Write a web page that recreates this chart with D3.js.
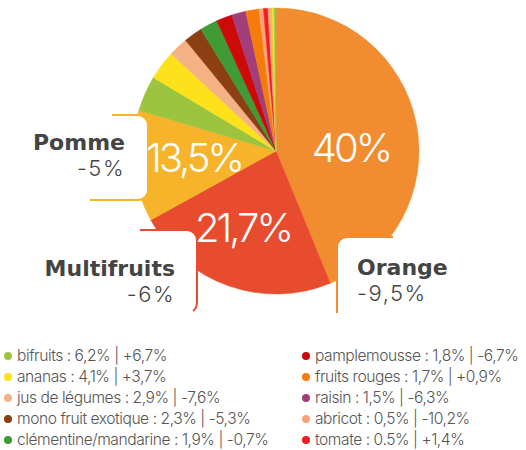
<!DOCTYPE html>
<html>
<head>
<meta charset="utf-8">
<script src="https://cdn.jsdelivr.net/npm/d3@7/dist/d3.min.js"></script>
<style>
  body { margin: 0; background: #fff; }
  svg { display: block; font-family: Inter, "Noto Sans", sans-serif; }
</style>
</head>
<body>
<div id="chart"></div>
<script>
// main segments (pie order)
const mainNames = ["Orange", "Multifruits", "Pomme"]
const mainShareLabels = ["40%", "21,7%", "13,5%"]
const mainChanges = ["-9,5%", "-6%", "-5%"]
const mainColors = ["#F28C30", "#E84C2E", "#F7B42A"]
// slice sizes as drawn in the picture (the infographic is not to scale)
const mainSlices = [43.8, 23.2, 12.6]

// small segments (legend order)
const minorNames = ["bifruits", "ananas", "jus de légumes", "mono fruit exotique", "clémentine/mandarine",
  "pamplemousse", "fruits rouges", "raisin", "abricot", "tomate"]
const minorShareLabels = ["6,2%", "4,1%", "2,9%", "2,3%", "1,9%", "1,8%", "1,7%", "1,5%", "0,5%", "0.5%"]
const minorChanges = ["+6,7%", "+3,7%", "-7,6%", "-5,3%", "-0,7%", "-6,7%", "+0,9%", "-6,3%", "-10,2%", "+1,4%"]
const minorColors = ["#9DC43F", "#FDE11B", "#F4B183", "#8B3F12", "#3E9B35",
  "#CC0A0A", "#F57C0A", "#A23E79", "#F8A27A", "#F21C1C"]
const minorSlices = [4.0, 3.3, 2.2, 2.1, 2.0, 1.8, 1.5, 1.6, 0.5, 0.5]
// order in which the small segments appear in the pie
const minorPieOrder = [0, 1, 2, 3, 4, 5, 7, 6, 8, 9]

// unlabelled slivers closing the pie
const otherSlices = [0.25, 0.25, 0.2, 0.2]
const otherColors = ["#F7A08A", "#F8C030", "#F5E03A", "#8CC63F"]

const W = 526, H = 450
const CX = 276, CY = 151, R = 143

const svg = d3.select("#chart").append("svg")
  .attr("width", W)
  .attr("height", H)

const slices = []
mainNames.forEach((n, i) => slices.push({ share: mainSlices[i], color: mainColors[i] }))
minorPieOrder.forEach(i => slices.push({ share: minorSlices[i], color: minorColors[i] }))
otherSlices.forEach((s, i) => slices.push({ share: s, color: otherColors[i] }))

const pie = d3.pie().sort(null).value(d => d.share)
const arc = d3.arc().innerRadius(0).outerRadius(R)

const pieG = svg.append("g").attr("transform", `translate(${CX},${CY})`)

pieG.selectAll("path")
  .data(pie(slices))
  .join("path")
  .attr("d", arc)
  .attr("fill", d => d.data.color)
  .attr("stroke", d => d.data.color)
  .attr("stroke-width", 0.5)

// white label boxes that cut into the pie
const boxes = [
  { fill: [0, 115, 148, 85], line: "M112,115 H138 A10,10 0 0 1 148,125 V190 A10,10 0 0 1 138,200 H90", color: mainColors[2] },
  { fill: [0, 230, 197, 90], line: "M140,230 H187 A10,10 0 0 1 197,240 V302 Q197,308 193,311", color: mainColors[1] },
  { fill: [337, 237, 189, 90], line: "M393,237 H347 A10,10 0 0 0 337,247 V313", color: mainColors[0] }
]
boxes.forEach(b => {
  const [x, y, w, h] = b.fill
  svg.append("rect")
    .attr("x", x).attr("y", y)
    .attr("width", w).attr("height", h)
    .attr("rx", 10)
    .attr("fill", "#fff")
  svg.append("path")
    .attr("d", b.line)
    .attr("fill", "none")
    .attr("stroke", b.color)
    .attr("stroke-width", 2)
})

// percentages inside the pie
const inLabelPos = [[351, 162], [243, 242], [194, 172]]
mainShareLabels.forEach((t, i) => {
  svg.append("text")
    .attr("x", inLabelPos[i][0])
    .attr("y", inLabelPos[i][1])
    .attr("text-anchor", "middle")
    .attr("font-size", "40px")
    .attr("font-weight", 300)
    .attr("letter-spacing", "-3px")
    .attr("fill", "#fff")
    .text(t)
})

// category names next to boxes
const namePos = [
  { x: 357, y: 275, anchor: "start" },
  { x: 175, y: 276, anchor: "end" },
  { x: 125, y: 150, anchor: "end" }
]
mainNames.forEach((n, i) => {
  const p = namePos[i]
  svg.append("text")
    .attr("x", p.x).attr("y", p.y)
    .attr("text-anchor", p.anchor)
    .attr("font-family", "'DejaVu Sans', sans-serif")
    .attr("font-size", "22px")
    .attr("font-weight", 700)
    .attr("fill", "#444")
    .text(n)
  svg.append("text")
    .attr("x", p.x).attr("y", p.y + 26)
    .attr("text-anchor", p.anchor)
    .attr("font-size", "22px")
    .attr("font-weight", 300)
    .attr("letter-spacing", "1.5px")
    .attr("fill", "#444")
    .text(mainChanges[i])
})

// legend, two columns of five
const legend = svg.append("g")
minorNames.forEach((n, i) => {
  const col = Math.floor(i / 5)
  const row = i % 5
  const x = col === 0 ? 8 : 306
  const y = 361 + row * 21
  legend.append("circle")
    .attr("cx", x).attr("cy", y - 5)
    .attr("r", 4)
    .attr("fill", minorColors[i])
  legend.append("text")
    .attr("x", x + 9).attr("y", y)
    .attr("font-size", "15.6px")
    .attr("font-weight", 300)
    .attr("letter-spacing", "-0.45px")
    .attr("fill", "#555")
    .text(`${n} : ${minorShareLabels[i]} | ${minorChanges[i]}`)
})
</script>
</body>
</html>
